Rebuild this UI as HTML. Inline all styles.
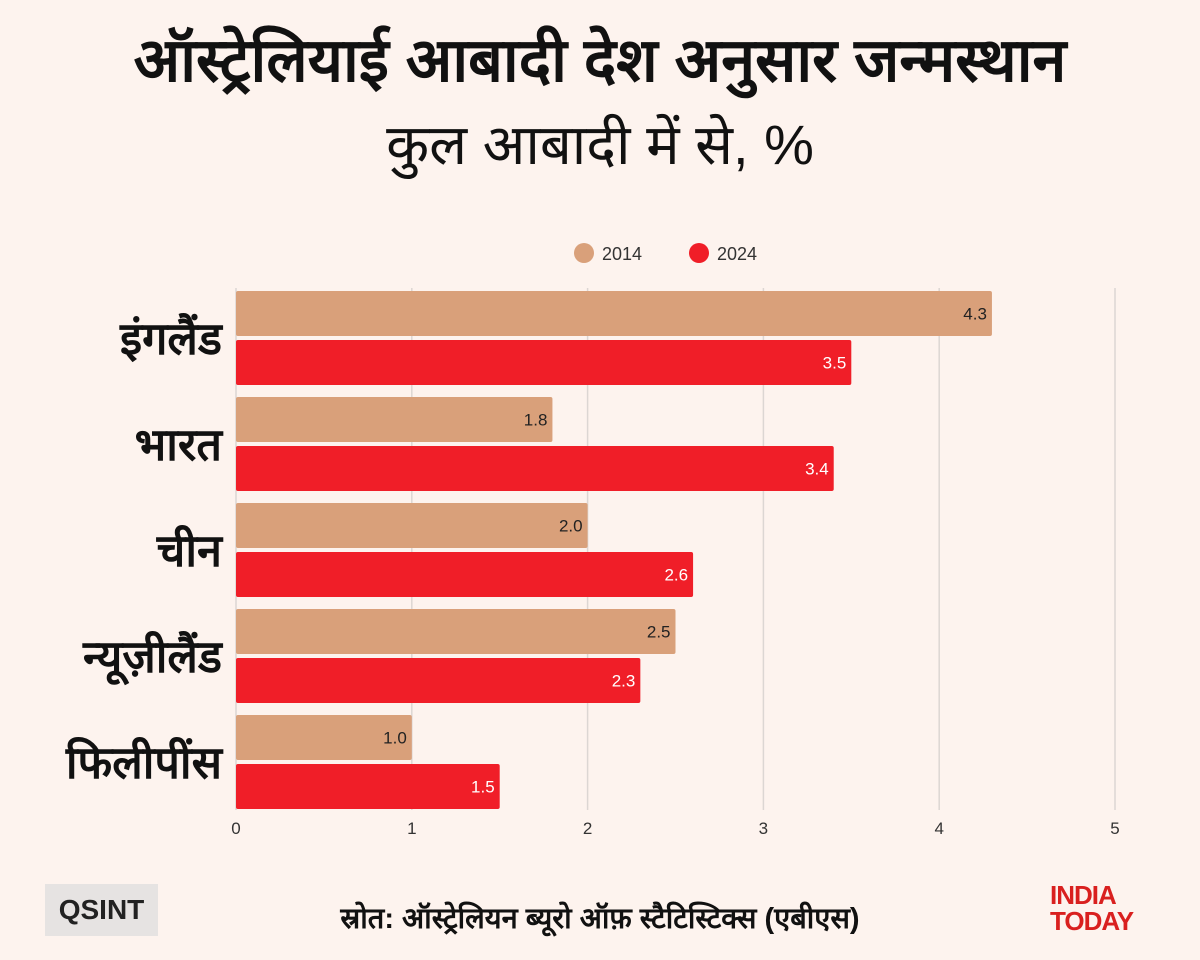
<!DOCTYPE html>
<html><head><meta charset="utf-8"><style>
body{margin:0;width:1200px;height:960px;background:#FDF3EE;font-family:"Liberation Sans",sans-serif;overflow:hidden;position:relative}
.t{position:absolute;left:0;width:1200px;text-align:center;color:#111}
</style></head><body>
<div class="t" style="top:24px;font-size:61px;font-weight:bold;line-height:72px">ऑस्ट्रेलियाई आबादी देश अनुसार जन्मस्थान</div>
<div class="t" style="top:112px;font-size:56px;line-height:66px">कुल आबादी में से, %</div>
<svg id="c" width="1200" height="960" style="position:absolute;left:0;top:0"></svg>
<div style="position:absolute;left:45px;top:884px;width:113px;height:52px;background:#e6e3e2;font-weight:bold;font-size:28px;text-align:center;line-height:52px;color:#222">QSINT</div>
<div class="t" style="top:898px;font-size:29px;font-weight:bold">स्रोत: ऑस्ट्रेलियन ब्यूरो ऑफ़ स्टैटिस्टिक्स (एबीएस)</div>
<div style="position:absolute;left:1050px;top:882px;width:120px;font-weight:bold;font-size:26px;line-height:26px;color:#d9201f;letter-spacing:-1px">INDIA<br>TODAY</div>
<script>
const categories=["इंगलैंड","भारत","चीन","न्यूज़ीलैंड","फिलीपींस"];
const values2014=[4.3,1.8,2.0,2.5,1.0];
const values2024=[3.5,3.4,2.6,2.3,1.5];
const ticks=[0,1,2,3,4,5];
const seriesNames=["2014","2024"];
const colors=["#D9A07A","#F01E28"];
const NS="http://www.w3.org/2000/svg",svg=document.getElementById('c');
const x0=236,x1=1115,top0=291,pitch=106,bh=45,gap=4;
const xs=v=>x0+(x1-x0)*v/5;
function mk(t,a,txt){const e=document.createElementNS(NS,t);for(const k in a)e.setAttribute(k,a[k]);if(txt!==undefined)e.textContent=txt;svg.appendChild(e);return e;}
ticks.forEach(t=>{
 const l=mk('line',{x1:xs(t),x2:xs(t),y1:288,y2:810,stroke:'#dcd6d3','stroke-width':1.5});
 
 
 const tx=mk('text',{x:xs(t),y:834,'text-anchor':'middle','font-size':17,fill:'#333'},t);
 
 
});
seriesNames.forEach((s,i)=>{
 const cx=[584,699][i];
 const c=mk('circle',{cx:cx,cy:253,r:10,fill:colors[i]});
 
 
 const t=mk('text',{x:cx+18,y:260,'font-size':18,fill:'#333'},s);
 
 
});
categories.forEach((c,i)=>{
 const y=top0+i*pitch;
 [values2014[i],values2024[i]].forEach((v,j)=>{
  const by=y+j*(bh+gap);
  const r=mk('rect',{x:x0,y:by,width:xs(v)-x0,height:bh,fill:colors[j],rx:2});
  
  
  const t=mk('text',{x:xs(v)-5,y:by+bh/2+6,'text-anchor':'end','font-size':17,fill:j?'#fff':'#222'},v.toFixed(1));
  
  
 });
 const l=mk('text',{x:222,y:y+bh+18,'text-anchor':'end','font-size':45,'font-weight':'bold',fill:'#111'},c);
 
 
});
</script>
</body></html>
